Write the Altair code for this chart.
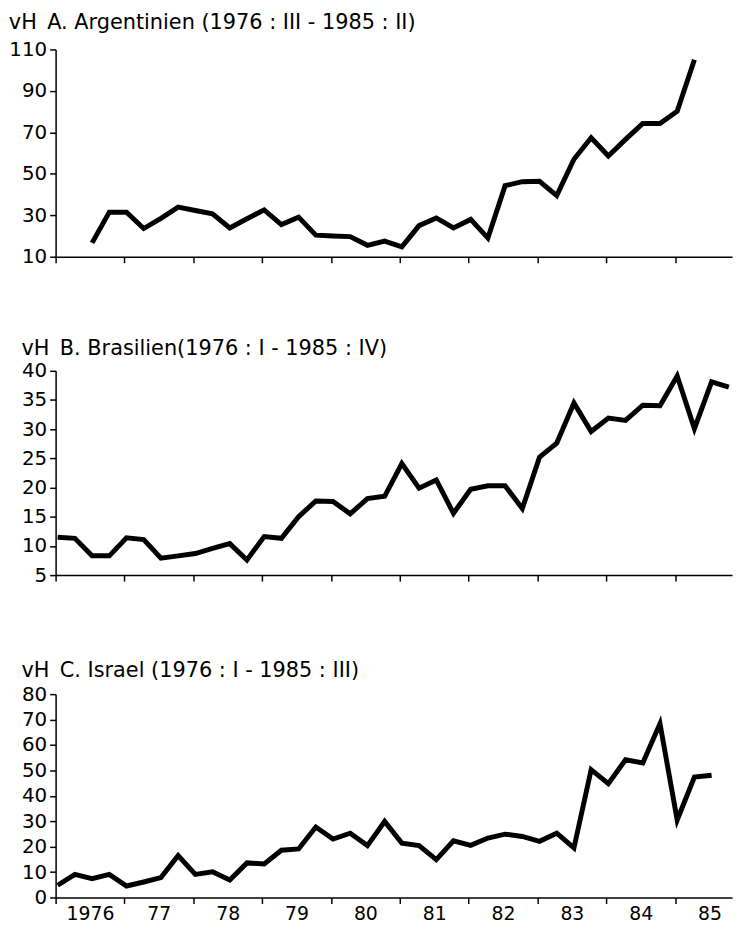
import json
import altair as alt
import pandas as pd

# ---------------- data (quarterly, vH) ----------------
arg_start_year, arg_start_q = 1976, 3
arg_values = [16.7, 31.5, 31.5, 23.6, 28.5, 33.9, 32.3, 30.7, 23.9, 28.3, 32.6, 25.5,
              29.1, 20.4, 20.0, 19.7, 15.5, 17.5, 14.8, 25.0, 28.7, 23.9, 28.0, 19.0,
              44.3, 46.2, 46.4, 39.5, 57.0, 67.4, 58.6, 66.6, 74.3, 74.3, 80.2, 105.0]

bra_start_year, bra_start_q = 1976, 1
bra_values = [11.5, 11.3, 8.3, 8.3, 11.4, 11.1, 7.9, 8.3, 8.7, 9.6, 10.4, 7.6,
              11.6, 11.3, 15.0, 17.7, 17.6, 15.5, 18.1, 18.5, 24.1, 19.9, 21.3, 15.6,
              19.7, 20.3, 20.3, 16.4, 25.2, 27.6, 34.5, 29.6, 31.9, 31.5, 34.1, 34.0,
              39.1, 30.1, 38.1, 37.2]

isr_start_year, isr_start_q = 1976, 1
isr_values = [4.8, 9.1, 7.4, 9.1, 4.5, 6.1, 7.8, 16.5, 9.1, 10.1, 6.9, 13.6,
              13.2, 18.6, 19.1, 27.7, 23.0, 25.3, 20.4, 29.9, 21.4, 20.4, 14.9, 22.3,
              20.5, 23.4, 24.9, 24.0, 22.1, 25.3, 19.5, 50.3, 44.8, 54.2, 52.9, 68.4,
              30.5, 47.4, 48.1]

year_ticks = [1976, 1977, 1978, 1979, 1980, 1981, 1982, 1983, 1984, 1985]
year_labels = ["1976", "77", "78", "79", "80", "81", "82", "83", "84", "85"]

arg_yticks = [10, 30, 50, 70, 90, 110]
bra_yticks = [5, 10, 15, 20, 25, 30, 35, 40]
isr_yticks = [0, 10, 20, 30, 40, 50, 60, 70, 80]

SP = "\u2002"
titles = [
    "vH" + SP + "A. Argentinien (1976 : III - 1985 : II)",
    "vH" + SP + "B. Brasilien(1976 : I - 1985 : IV)",
    "vH" + SP + "C. Israel (1976 : I - 1985 : III)",
]


def frame(start_year, start_q, values):
    rows = []
    for i, v in enumerate(values):
        k = (start_q - 1) + i
        y = start_year + k // 4
        q = k % 4 + 1
        rows.append({"t": y + (q - 1) / 4 + 0.03, "v": v})
    return pd.DataFrame(rows)


FONT = "DejaVu Sans"
W = 682
X_END = 1976 + W / 69.4

label_expr = json.dumps(year_labels) + "[datum.value - 1976]"


def panel(df, title, yticks, height, show_labels, offset):
    x_axis = alt.Axis(
        values=year_ticks,
        labels=show_labels,
        labelExpr=label_expr,
        labelOffset=34.7,
        labelPadding=1,
        labelFontSize=19,
        labelOverlap=False,
        labelFlush=False,
        title=None,
        grid=False,
    )
    y_axis = alt.Axis(values=yticks, title=None, grid=False, labelPadding=3)
    return (
        alt.Chart(df)
        .mark_line(color="black", strokeWidth=5, strokeJoin="miter")
        .encode(
            x=alt.X("t:Q", scale=alt.Scale(domain=[1976, X_END], nice=False, zero=False), axis=x_axis),
            y=alt.Y("v:Q", scale=alt.Scale(domain=[yticks[0], yticks[-1]], nice=False, zero=False), axis=y_axis),
        )
        .properties(
            width=W,
            height=height,
            title=alt.TitleParams(
                text=title,
                anchor="start",
                frame="bounds",
                font=FONT,
                fontSize=21,
                fontWeight="normal",
                color="black",
                offset=offset,
            ),
        )
    )


a = panel(frame(arg_start_year, arg_start_q, arg_values), titles[0], arg_yticks, 209, False, 7)
b = panel(frame(bra_start_year, bra_start_q, bra_values), titles[1], bra_yticks, 206, False, 2)
c = panel(frame(isr_start_year, isr_start_q, isr_values), titles[2], isr_yticks, 205, True, 3)

chart = (
    alt.vconcat(alt.vconcat(a, b, spacing=72), c, spacing=76)
    .properties(padding=0, background="white")
    .configure_view(stroke=None)
    .configure_axis(
        domainColor="black",
        domainWidth=1.5,
        tickColor="black",
        tickWidth=1.5,
        tickSize=6,
        labelFont=FONT,
        labelFontSize=20,
        labelColor="black",
    )
)

chart.save("out.html", embed_options={"renderer": "svg", "actions": False})
